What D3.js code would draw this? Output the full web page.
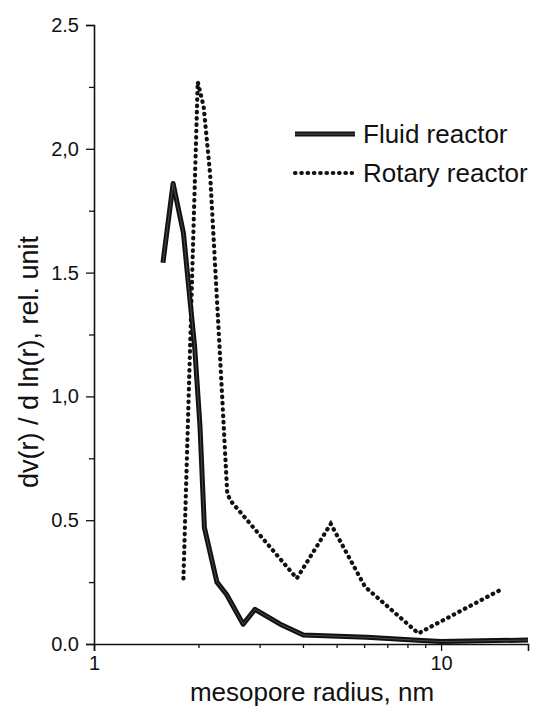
<!DOCTYPE html>
<html>
<head>
	<meta charset="utf-8">
	<script src="https://d3js.org/d3.v7.min.js"></script>
	<title>Mesopore distribution</title>
	<style>
		body { margin: 0; background: #fff; }
		text { font-family: "Liberation Sans", Arial, sans-serif; fill: #111; }
	</style>
</head>
<body>
	<div id="chart"></div>

	<script type="text/javascript">

		// values
		var fluidR  = [1.58, 1.69, 1.81, 1.89, 1.95, 2.02, 2.08, 2.26, 2.41, 2.69, 2.91, 3.44, 4.01, 6.11, 8.32, 10.0, 17.8];
		var fluidV  = [1.54, 1.86, 1.66, 1.39, 1.20, 0.88, 0.47, 0.25, 0.20, 0.08, 0.14, 0.08, 0.036, 0.027, 0.016, 0.01, 0.016];

		var rotaryR = [1.81, 1.99, 2.07, 2.16, 2.21, 2.31, 2.42, 2.47, 3.84, 4.81, 6.04, 8.6, 14.8];
		var rotaryV = [0.265, 2.27, 2.17, 1.90, 1.645, 1.15, 0.61, 0.58, 0.265, 0.485, 0.231, 0.043, 0.218];

		var yTicks = [0, 0.5, 1.0, 1.5, 2.0, 2.5];
		var yTickLabels = ["0.0", "0.5", "1,0", "1.5", "2,0", "2.5"];
		var yMinor = [0.25, 0.75, 1.25, 1.75, 2.25];
		var xTicks = [1, 10];
		var xMinor = [2, 3, 4, 5, 6, 7, 8, 9];

		var seriesNames = ["Fluid reactor", "Rotary reactor"];

		var svgwidth = 538;
		var svgheight = 716;

		var svg = d3.select("#chart").append("svg")
					.attr("width", svgwidth)
					.attr("height", svgheight);

		var xScale = d3.scaleLog()
						.domain([1, 17.8])
						.range([94, 528]);

		var yScale = d3.scaleLinear()
						.domain([0, 2.5])
						.range([644, 25]);

		// y axis
		var yAxis = svg.append("g")
			.attr("transform", "translate(94,0)")
			.call(d3.axisLeft(yScale)
				.tickValues(yTicks)
				.tickSize(8)
				.tickPadding(7)
				.tickFormat(function(d, i){ return yTickLabels[i]; }));

		svg.append("g")
			.attr("transform", "translate(94,0)")
			.call(d3.axisLeft(yScale).tickValues(yMinor).tickSize(5).tickFormat(""))
			.select(".domain").remove();

		// x axis
		var xAxis = svg.append("g")
			.attr("transform", "translate(0,644)")
			.call(d3.axisBottom(xScale)
				.tickValues(xTicks)
				.tickSize(7)
				.tickPadding(5)
				.tickFormat(d3.format("d")));

		svg.append("g")
			.attr("transform", "translate(0,644)")
			.call(d3.axisBottom(xScale).tickValues(xMinor).tickSize(4).tickFormat(""))
			.select(".domain").remove();

		svg.selectAll(".domain").attr("stroke", "#111").attr("stroke-width", 1.6);
		svg.selectAll(".tick line").attr("stroke", "#111").attr("stroke-width", 1.3);
		yAxis.selectAll("text").style("font-size", "20px");
		xAxis.selectAll("text").style("font-size", "20px");

		// axis titles
		svg.append("text")
			.attr("x", 312)
			.attr("y", 701)
			.attr("text-anchor", "middle")
			.style("font-size", "26px")
			.text("mesopore radius, nm");

		svg.append("text")
			.attr("transform", "translate(38,362) rotate(-90)")
			.attr("text-anchor", "middle")
			.style("font-size", "27px")
			.text("dv(r) / d ln(r), rel. unit");

		// lines
		var line = d3.line()
			.x(function(d){ return xScale(d[0]); })
			.y(function(d){ return yScale(d[1]); });

		var fluidData = d3.zip(fluidR, fluidV);
		var rotaryData = d3.zip(rotaryR, rotaryV);

		svg.append("path")
			.attr("d", line(rotaryData))
			.attr("fill", "none")
			.attr("stroke", "#111")
			.attr("stroke-width", 4.2)
			.attr("stroke-linecap", "round")
			.attr("stroke-dasharray", "0.5,5.8");

		svg.append("path")
			.attr("d", line(fluidData))
			.attr("fill", "none")
			.attr("stroke", "#111")
			.attr("stroke-width", 5)
			.attr("stroke-linejoin", "round");

		// lighter core, the scan shows the thick line as a double stroke
		svg.append("path")
			.attr("d", line(fluidData))
			.attr("fill", "none")
			.attr("stroke", "#4a4a4a")
			.attr("stroke-width", 1);

		// legend
		var legend = svg.append("g");

		legend.append("line")
			.attr("x1", 295).attr("x2", 355)
			.attr("y1", 134).attr("y2", 134)
			.attr("stroke", "#111")
			.attr("stroke-width", 5);
		legend.append("line")
			.attr("x1", 295).attr("x2", 355)
			.attr("y1", 134).attr("y2", 134)
			.attr("stroke", "#555")
			.attr("stroke-width", 1);

		legend.append("line")
			.attr("x1", 295).attr("x2", 352)
			.attr("y1", 173).attr("y2", 173)
			.attr("stroke", "#111")
			.attr("stroke-width", 4.2)
			.attr("stroke-linecap", "round")
			.attr("stroke-dasharray", "0.5,5.8");

		legend.selectAll(".legtext")
			.data(seriesNames).enter().append("text")
			.attr("class", "legtext")
			.attr("x", 363)
			.attr("y", function(d, i){ return 143 + i*39; })
			.style("font-size", "26px")
			.text(function(d){ return d; });

	</script>

</body>
</html>
